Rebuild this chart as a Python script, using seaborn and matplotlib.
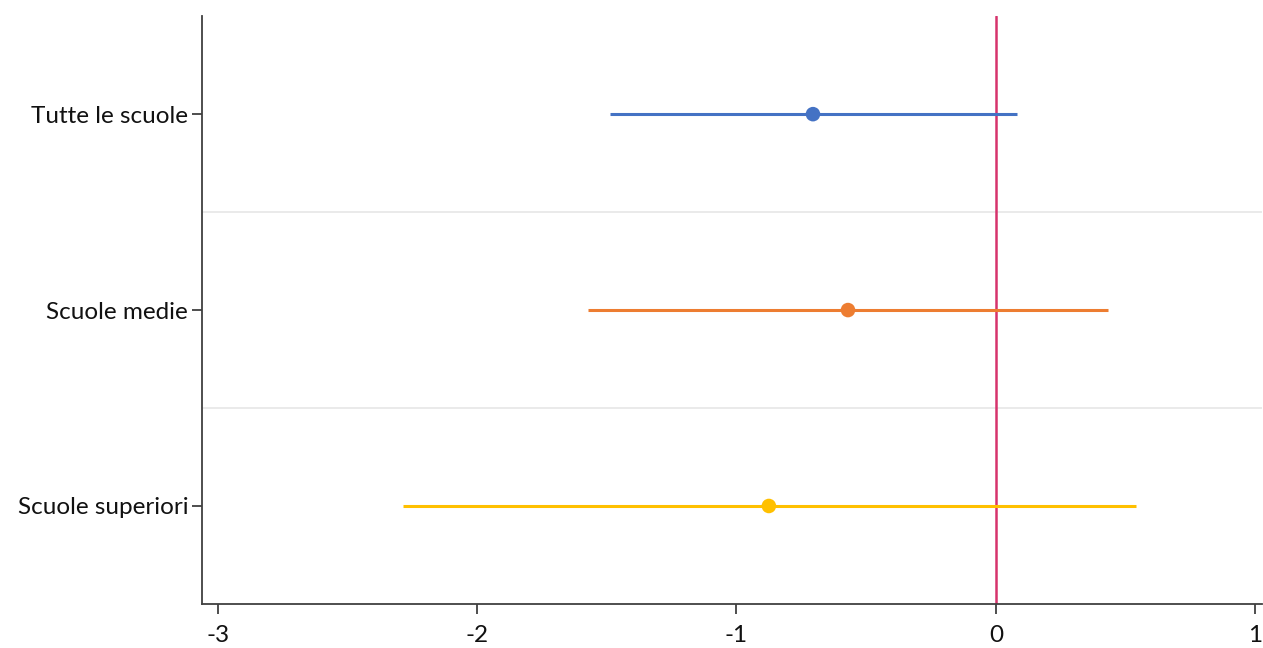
import seaborn as sns
import matplotlib.pyplot as plt
import pandas as pd

# estimates and confidence intervals
groups = ["Tutte le scuole", "Scuole medie", "Scuole superiori"]
estimate = [-0.705, -0.570, -0.875]
ci_low = [-1.487, -1.572, -2.287]
ci_high = [0.081, 0.431, 0.539]
colors = ["#4472C4", "#ED7D31", "#FFC000"]
xticks = [-3, -2, -1, 0, 1]

df = pd.DataFrame({"group": groups, "est": estimate, "lo": ci_low, "hi": ci_high})
df["pos"] = range(len(df))

sns.set_style("white")
plt.rcParams["font.family"] = ["Lato", "DejaVu Sans"]

fig = plt.figure(figsize=(12.63, 6.48), dpi=100)
ax = fig.add_axes([0.16, 0.068, 0.839, 0.907])

# separators between rows
for y in [0.5, 1.5]:
    ax.axhline(y, color="#e6e6e6", lw=1.2, zorder=0)

# zero reference line
ax.axvline(0, color="#D6336C", lw=1.8, zorder=1)

for i, row in df.iterrows():
    ax.hlines(row["pos"], row["lo"], row["hi"], color=colors[i], lw=2.2, zorder=2)

sns.scatterplot(data=df, x="est", y="pos", hue="group", palette=colors,
                s=110, edgecolor="none", legend=False, ax=ax, zorder=3)

ax.set_xlim(-3.06, 1.025)
ax.set_ylim(2.5, -0.5)
ax.set_xticks(xticks)
ax.set_xticklabels([str(t) for t in xticks])
ax.set_yticks(df["pos"])
ax.set_yticklabels(groups)
ax.set_xlabel("")
ax.set_ylabel("")

for side in ["top", "right"]:
    ax.spines[side].set_visible(False)
for side in ["left", "bottom"]:
    ax.spines[side].set_color("#404040")
    ax.spines[side].set_linewidth(1.3)

ax.tick_params(axis="both", which="major", direction="out", length=7, width=1.3,
               bottom=True, left=True, color="#404040", labelsize=17.5,
               labelcolor="#111111")
ax.tick_params(axis="x", pad=8)
ax.tick_params(axis="y", pad=3)

fig.savefig("out.png", dpi=100)
